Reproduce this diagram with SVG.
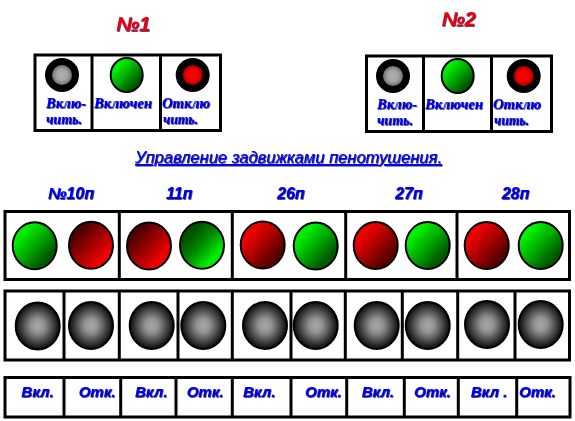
<svg xmlns="http://www.w3.org/2000/svg" width="575" height="421" viewBox="0 0 575 421">
<style>
text{font-style:italic;font-weight:700;fill:#0000f0;font-family:"Liberation Sans",Arial,sans-serif;filter:url(#sh)}
.s{font-family:"Liberation Serif","Times New Roman",serif;font-size:14.5px}
.h{font-size:20px;fill:#f00000}
.t{font-size:16px}
.u{font-size:16px;font-weight:400;text-decoration:underline}
.b{font-size:15px}
rect{fill:#fff;stroke:#000;stroke-width:3}
line{stroke:#000;stroke-width:3}
ellipse{stroke:#000;stroke-width:2}
.g1{fill:url(#g1)}.g2{fill:url(#g2)}.r1{fill:url(#r1)}.r2{fill:url(#r2)}.k{fill:url(#k)}
.sr{fill:url(#sr);stroke:#000;stroke-width:7}.sk{fill:url(#sk);stroke:#000;stroke-width:7}
</style>
<defs>
<filter id="sh" x="-10%" y="-20%" width="120%" height="140%"><feDropShadow dx="0.7" dy="0.7" stdDeviation="0.3" flood-color="#000050"/></filter>
<linearGradient id="g1" x1="0.05" y1="0.05" x2="0.95" y2="0.95"><stop offset="0.2" stop-color="#00f000"/><stop offset="0.45" stop-color="#00b400"/><stop offset="0.8" stop-color="#005800"/></linearGradient>
<linearGradient id="g2" x1="0.05" y1="0.05" x2="0.95" y2="0.95"><stop offset="0.2" stop-color="#005000"/><stop offset="0.5" stop-color="#008c00"/><stop offset="0.8" stop-color="#00f000"/></linearGradient>
<linearGradient id="r1" x1="0.05" y1="0.05" x2="0.95" y2="0.95"><stop offset="0.2" stop-color="#f00000"/><stop offset="0.45" stop-color="#b40000"/><stop offset="0.8" stop-color="#580000"/></linearGradient>
<linearGradient id="r2" x1="0.05" y1="0.05" x2="0.95" y2="0.95"><stop offset="0.2" stop-color="#500000"/><stop offset="0.5" stop-color="#a00000"/><stop offset="0.8" stop-color="#f00000"/></linearGradient>
<radialGradient id="k"><stop offset="0" stop-color="#a8a8a8"/><stop offset="0.3" stop-color="#929292"/><stop offset="0.95" stop-color="#141414"/></radialGradient>
<radialGradient id="sr"><stop offset="0" stop-color="#ff0000"/><stop offset="0.45" stop-color="#f00000"/><stop offset="0.74" stop-color="#a00000"/></radialGradient>
<radialGradient id="sk"><stop offset="0" stop-color="#b0b0b0"/><stop offset="0.4" stop-color="#a4a4a4"/><stop offset="0.74" stop-color="#707070"/></radialGradient>
</defs>
<g id="connectors"></g>
<g id="title-1"><text class="h" x="116" y="31">№1</text></g>
<g id="title-2"><text class="h" x="441.5" y="26">№2</text></g>
<g id="panel-1">
<rect x="35" y="55" width="185.500" height="75.500"/>
<line x1="92" y1="55" x2="92" y2="130"/><line x1="160.500" y1="55" x2="160.500" y2="130"/>
<circle class="sk" cx="62" cy="75" r="13.500"/>
<ellipse class="g1" cx="126.700" cy="75" rx="16" ry="17"/>
<circle class="sr" cx="192.700" cy="75" r="13.500"/>
<text class="s" x="46" y="108" textLength="40" lengthAdjust="spacingAndGlyphs">Вклю-</text>
<text class="s" x="46" y="124" textLength="36" lengthAdjust="spacingAndGlyphs">чить.</text>
<text class="s" x="94" y="108" textLength="58" lengthAdjust="spacingAndGlyphs">Включен</text>
<text class="s" x="162" y="108" textLength="48" lengthAdjust="spacingAndGlyphs">Отклю</text>
<text class="s" x="163" y="124" textLength="35" lengthAdjust="spacingAndGlyphs">чить.</text>
</g>
<g id="panel-2">
<rect x="366.500" y="56" width="185" height="75.500"/>
<line x1="423.500" y1="56" x2="423.500" y2="131"/><line x1="491.500" y1="56" x2="491.500" y2="131"/>
<circle class="sk" cx="393" cy="76" r="13.500"/>
<ellipse class="g1" cx="457.700" cy="76" rx="16" ry="17"/>
<circle class="sr" cx="523.700" cy="76" r="13.500"/>
<text class="s" x="377" y="109" textLength="40" lengthAdjust="spacingAndGlyphs">Вклю-</text>
<text class="s" x="377" y="125" textLength="36" lengthAdjust="spacingAndGlyphs">чить.</text>
<text class="s" x="425" y="109" textLength="58" lengthAdjust="spacingAndGlyphs">Включен</text>
<text class="s" x="493" y="109" textLength="48" lengthAdjust="spacingAndGlyphs">Отклю</text>
<text class="s" x="494" y="125" textLength="35" lengthAdjust="spacingAndGlyphs">чить.</text>
</g>
<g id="heading"><text class="u" x="135" y="163" textLength="307" lengthAdjust="spacingAndGlyphs">Управление задвижками пенотушения.</text></g>
<g id="valve-labels">
<text class="t" x="48" y="199">№10п</text><text class="t" x="166" y="199">11п</text><text class="t" x="277" y="199">26п</text><text class="t" x="395" y="199">27п</text><text class="t" x="501.700" y="199">28п</text>
</g>
<g id="row-status">
<rect x="5" y="211.500" width="564.500" height="68"/>
<line x1="119.300" y1="211" x2="119.300" y2="280"/><line x1="232.300" y1="211" x2="232.300" y2="280"/><line x1="345.700" y1="211" x2="345.700" y2="280"/><line x1="457" y1="211" x2="457" y2="280"/>
<ellipse class="g1" cx="34.700" cy="245.700" rx="22" ry="23.500"/>
<ellipse class="r2" cx="91" cy="245.300" rx="22" ry="23.500"/>
<ellipse class="r2" cx="149" cy="246" rx="22" ry="23.500"/>
<ellipse class="g2" cx="202" cy="245.300" rx="22" ry="23.500"/>
<ellipse class="r1" cx="262.700" cy="245" rx="22" ry="23.500"/>
<ellipse class="g1" cx="315.700" cy="246" rx="22" ry="23.500"/>
<ellipse class="r1" cx="375.700" cy="245.500" rx="22" ry="23.500"/>
<ellipse class="g1" cx="427.700" cy="245.500" rx="22" ry="23.500"/>
<ellipse class="r1" cx="486.700" cy="245.500" rx="22" ry="23.500"/>
<ellipse class="g1" cx="540.700" cy="245.500" rx="22" ry="23.500"/>
</g>
<g id="row-buttons">
<rect x="5" y="291" width="564.500" height="69"/>
<line x1="64" y1="291" x2="64" y2="360"/><line x1="119.300" y1="291" x2="119.300" y2="360"/><line x1="178" y1="291" x2="178" y2="360"/><line x1="232.300" y1="291" x2="232.300" y2="360"/><line x1="291" y1="291" x2="291" y2="360"/><line x1="345.300" y1="291" x2="345.300" y2="360"/><line x1="402.300" y1="291" x2="402.300" y2="360"/><line x1="457.700" y1="291" x2="457.700" y2="360"/><line x1="515" y1="291" x2="515" y2="360"/>
<ellipse class="k" cx="37.700" cy="326" rx="22" ry="23.500"/>
<ellipse class="k" cx="91" cy="325.500" rx="22" ry="23.500"/>
<ellipse class="k" cx="151.700" cy="325.500" rx="22" ry="23.500"/>
<ellipse class="k" cx="203.300" cy="325.500" rx="22" ry="23.500"/>
<ellipse class="k" cx="265" cy="325.500" rx="22" ry="23.500"/>
<ellipse class="k" cx="315.700" cy="325.500" rx="22" ry="23.500"/>
<ellipse class="k" cx="376.700" cy="325.500" rx="22" ry="23.500"/>
<ellipse class="k" cx="427.700" cy="325.500" rx="22" ry="23.500"/>
<ellipse class="k" cx="487" cy="324.500" rx="22" ry="23.500"/>
<ellipse class="k" cx="540.700" cy="324.500" rx="22" ry="23.500"/>
</g>
<g id="row-text">
<rect x="5" y="377.500" width="565" height="39.500"/>
<line x1="64" y1="377" x2="64" y2="417"/><line x1="120.700" y1="377" x2="120.700" y2="417"/><line x1="176" y1="377" x2="176" y2="417"/><line x1="232.300" y1="377" x2="232.300" y2="417"/><line x1="291" y1="377" x2="291" y2="417"/><line x1="346.700" y1="377" x2="346.700" y2="417"/><line x1="404.300" y1="377" x2="404.300" y2="417"/><line x1="458.300" y1="377" x2="458.300" y2="417"/><line x1="516.700" y1="377" x2="516.700" y2="417"/>
<text class="b" x="21.300" y="397">Вкл.</text><text class="b" x="78.700" y="397">Отк.</text><text class="b" x="135" y="397">Вкл.</text><text class="b" x="186.700" y="397">Отк.</text><text class="b" x="243" y="397">Вкл.</text><text class="b" x="305" y="397">Отк.</text><text class="b" x="361.700" y="397">Вкл.</text><text class="b" x="414" y="397">Отк.</text><text class="b" x="470.700" y="397">Вкл .</text><text class="b" x="519" y="397">Отк.</text>
</g>
</svg>
